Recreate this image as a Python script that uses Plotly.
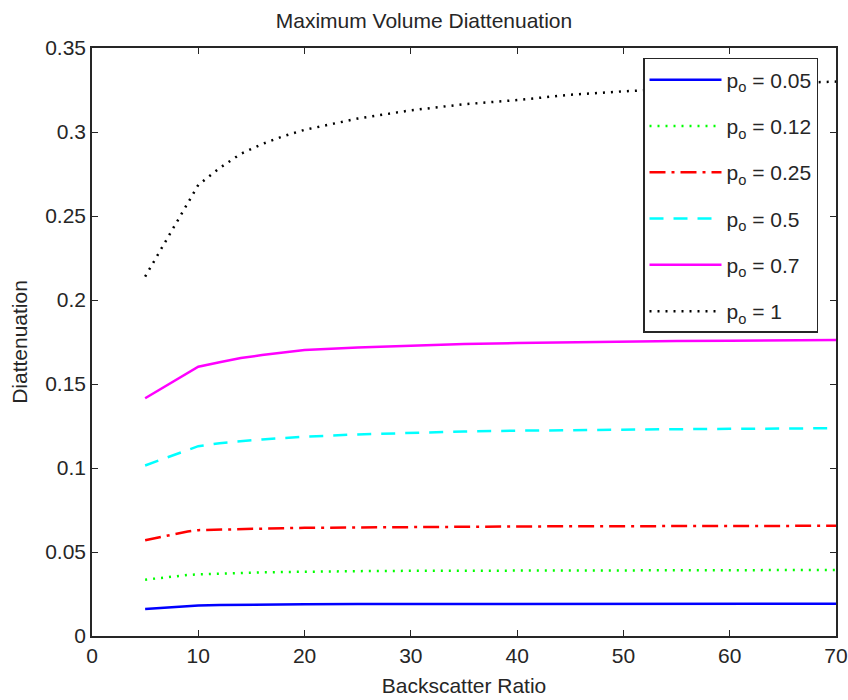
import plotly.graph_objects as go

# Backscatter ratio sample points
backscatter = [5, 6, 7, 8, 9, 10, 12, 14, 16, 18, 20, 25, 30, 35, 40, 45, 50, 55, 60, 65, 70]

# Maximum volume diattenuation for each p_o
d_005 = [0.0161, 0.0165, 0.0170, 0.0174, 0.0178, 0.0181, 0.0184, 0.0186, 0.0187, 0.0188, 0.0189,
         0.0190, 0.0190, 0.0191, 0.0191, 0.0191, 0.0191, 0.0192, 0.0192, 0.0192, 0.0192]
d_012 = [0.0335, 0.0343, 0.0350, 0.0357, 0.0363, 0.0367, 0.0372, 0.0376, 0.0379, 0.0381, 0.0383,
         0.0386, 0.0388, 0.0389, 0.0390, 0.0391, 0.0391, 0.0392, 0.0392, 0.0393, 0.0393]
d_025 = [0.0570, 0.0583, 0.0597, 0.0610, 0.0622, 0.0630, 0.0634, 0.0637, 0.0640, 0.0642, 0.0644,
         0.0647, 0.0649, 0.0651, 0.0652, 0.0653, 0.0654, 0.0655, 0.0655, 0.0656, 0.0656]
d_05 = [0.1015, 0.1038, 0.1060, 0.1085, 0.1108, 0.1130, 0.1148, 0.1160, 0.1170, 0.1178, 0.1186,
        0.1200, 0.1210, 0.1217, 0.1222, 0.1226, 0.1229, 0.1231, 0.1233, 0.1235, 0.1237]
d_07 = [0.1415, 0.1453, 0.1490, 0.1528, 0.1566, 0.1603, 0.1630, 0.1655, 0.1672, 0.1688, 0.1702,
        0.1718, 0.1730, 0.1738, 0.1744, 0.1749, 0.1753, 0.1756, 0.1758, 0.1760, 0.1762]
d_1 = [0.2139, 0.2247, 0.2357, 0.2467, 0.2577, 0.2685, 0.2785, 0.2870, 0.2928, 0.2975, 0.3013,
       0.3080, 0.3129, 0.3165, 0.3190, 0.3222, 0.3242, 0.3260, 0.3275, 0.3290, 0.3300]

labels = ["p<sub>o</sub> = 0.05", "p<sub>o</sub> = 0.12", "p<sub>o</sub> = 0.25",
          "p<sub>o</sub> = 0.5", "p<sub>o</sub> = 0.7", "p<sub>o</sub> = 1"]
series = [d_005, d_012, d_025, d_05, d_07, d_1]
colors = ["#0000ff", "#00ff00", "#ff0000", "#00ffff", "#ff00ff", "#000000"]
dashes = ["solid", "2px,6px", "16px,6px,3px,6px", "14px,10px", "solid", "2px,6px"]

FONT = "Liberation Sans, Arial, sans-serif"
AXC = "#262626"
FS = 21

fig = go.Figure()
for i, (lab, ys, c, d) in enumerate(zip(labels, series, colors, dashes)):
    fig.add_trace(go.Scatter(
        x=backscatter, y=ys, mode="lines", name=lab,
        legendgroup=f"g{i}",
        line=dict(color=c, width=2.5, dash=d),
    ))

axis_common = dict(
    showline=True, linecolor=AXC, linewidth=1.5, mirror="ticks",
    ticks="inside", ticklen=6, tickcolor=AXC, tickwidth=1,
    showgrid=False, zeroline=False, automargin=False,
    tickfont=dict(family=FONT, size=FS, color=AXC),
)

fig.update_layout(
    width=848, height=700,
    margin=dict(l=92, r=12, t=48, b=64),
    paper_bgcolor="white", plot_bgcolor="white",
    title=dict(text="Maximum Volume Diattenuation", x=0.5, xanchor="center",
               y=0.971, yanchor="middle",
               font=dict(family=FONT, size=FS, color=AXC)),
    xaxis=dict(range=[0, 70], tickvals=[0, 10, 20, 30, 40, 50, 60, 70],
               title=dict(text="Backscatter Ratio", standoff=12,
                          font=dict(family=FONT, size=FS, color=AXC)),
               **axis_common),
    yaxis=dict(range=[0, 0.35], tickvals=[0, 0.05, 0.1, 0.15, 0.2, 0.25, 0.3, 0.35],
               title=dict(text="Diattenuation", standoff=12,
                          font=dict(family=FONT, size=FS, color=AXC)),
               **axis_common),
    legend=dict(
        x=0.7406, y=0.983, xanchor="left", yanchor="top",
        bgcolor="white", bordercolor=AXC, borderwidth=1.5,
        font=dict(family=FONT, size=FS, color=AXC),
        itemwidth=72, traceorder="grouped", tracegroupgap=16,
        entrywidth=100,
    ),
    showlegend=True,
)

fig.write_html("out.html")
